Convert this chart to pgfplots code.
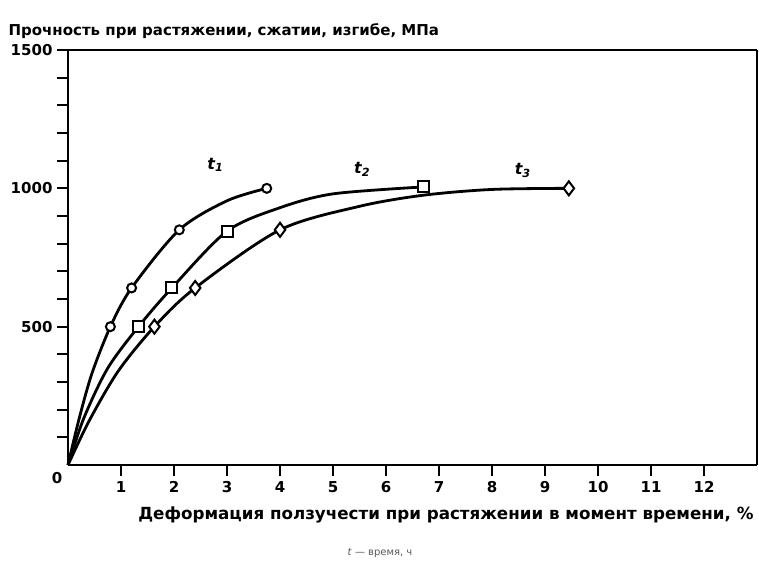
\documentclass[border=0pt]{standalone}
\usepackage{pgfplots}
\pgfplotsset{compat=1.18}
\usepackage{fontspec}
\setmainfont{DejaVu Sans}
\begin{document}
\begin{tikzpicture}[x=1pt,y=1pt]
\path[use as bounding box] (-68,-98) rectangle (691,465);
\begin{axis}[
  at={(0,0)}, anchor=south west,
  scale only axis, width=689pt, height=415pt,
  xmin=0, xmax=13, ymin=0, ymax=1500,
  axis x line*=bottom, axis y line*=left,
  axis line style={line width=2.4pt, -},
  xtick={1,2,...,12}, ytick={500,1000,1500},
  minor ytick={100,200,...,1400},
  tick align=outside,
  major tick length=11pt, minor tick length=11pt,
  every tick/.style={line width=2pt, black},
  /pgf/number format/assume math mode=true,
  /pgf/number format/1000 sep={},
  xticklabel style={font=\fontsize{15}{17}\selectfont\bfseries, yshift=-2pt},
  yticklabel style={font=\fontsize{15}{17}\selectfont\bfseries, xshift=-1pt},
  clip=false,
]
\addplot[smooth, line width=2.8pt, black] coordinates {(0,0) (0.2,160) (0.45,330) (0.8,500) (1.2,640) (2.1,850) (3,955) (3.75,1000)};
\addplot[smooth, line width=2.8pt, black] coordinates {(0,0) (0.3,170) (0.75,350) (1.33,500) (1.96,640) (3,845) (4,930) (5,980) (6.7,1005)};
\addplot[smooth, line width=2.8pt, black] coordinates {(0,0) (0.4,160) (0.95,340) (1.63,500) (2.4,640) (4,850) (5.5,935) (6.7,975) (8,996) (9.45,1000)};
\addplot[only marks, mark=*, mark size=4.5pt, mark options={fill=white, draw=black, line width=2pt}] coordinates {(0.8,500) (1.2,640) (2.1,850) (3.75,1000)};
\addplot[only marks, mark=square*, mark size=5.5pt, mark options={fill=white, draw=black, line width=2pt}] coordinates {(1.33,500) (1.96,640) (3,845) (6.7,1005)};
\addplot[only marks, mark=diamond*, mark size=7pt, mark options={fill=white, draw=black, line width=2pt}] coordinates {(1.63,500) (2.4,640) (4,850) (9.45,1000)};
\node[font=\fontsize{16}{18}\selectfont\bfseries\itshape] at (axis cs:2.78,1085) {t\textsubscript{1}};
\node[font=\fontsize{16}{18}\selectfont\bfseries\itshape] at (axis cs:5.55,1068) {t\textsubscript{2}};
\node[font=\fontsize{16}{18}\selectfont\bfseries\itshape] at (axis cs:8.58,1065) {t\textsubscript{3}};
\draw[line width=2.4pt] (rel axis cs:0,1) -- (rel axis cs:1,1);
\draw[line width=1.3pt] (rel axis cs:1,1) -- (rel axis cs:1,0);
\end{axis}
\node[anchor=base west, font=\fontsize{15}{17}\selectfont\bfseries] at (-63,429) {Прочность при растяжении, сжатии, изгибе, МПа};
\node[anchor=base east, font=\fontsize{16.7}{18}\selectfont\bfseries] at (689,-54) {Деформация ползучести при растяжении в момент времени, \%};
\node[font=\fontsize{15}{17}\selectfont\bfseries] at (-11,-13) {0};
\node[anchor=base, font=\fontsize{10}{12}\selectfont, text=black!65] at (312,-90) {\textit{t} — время, ч};
\end{tikzpicture}
\end{document}
